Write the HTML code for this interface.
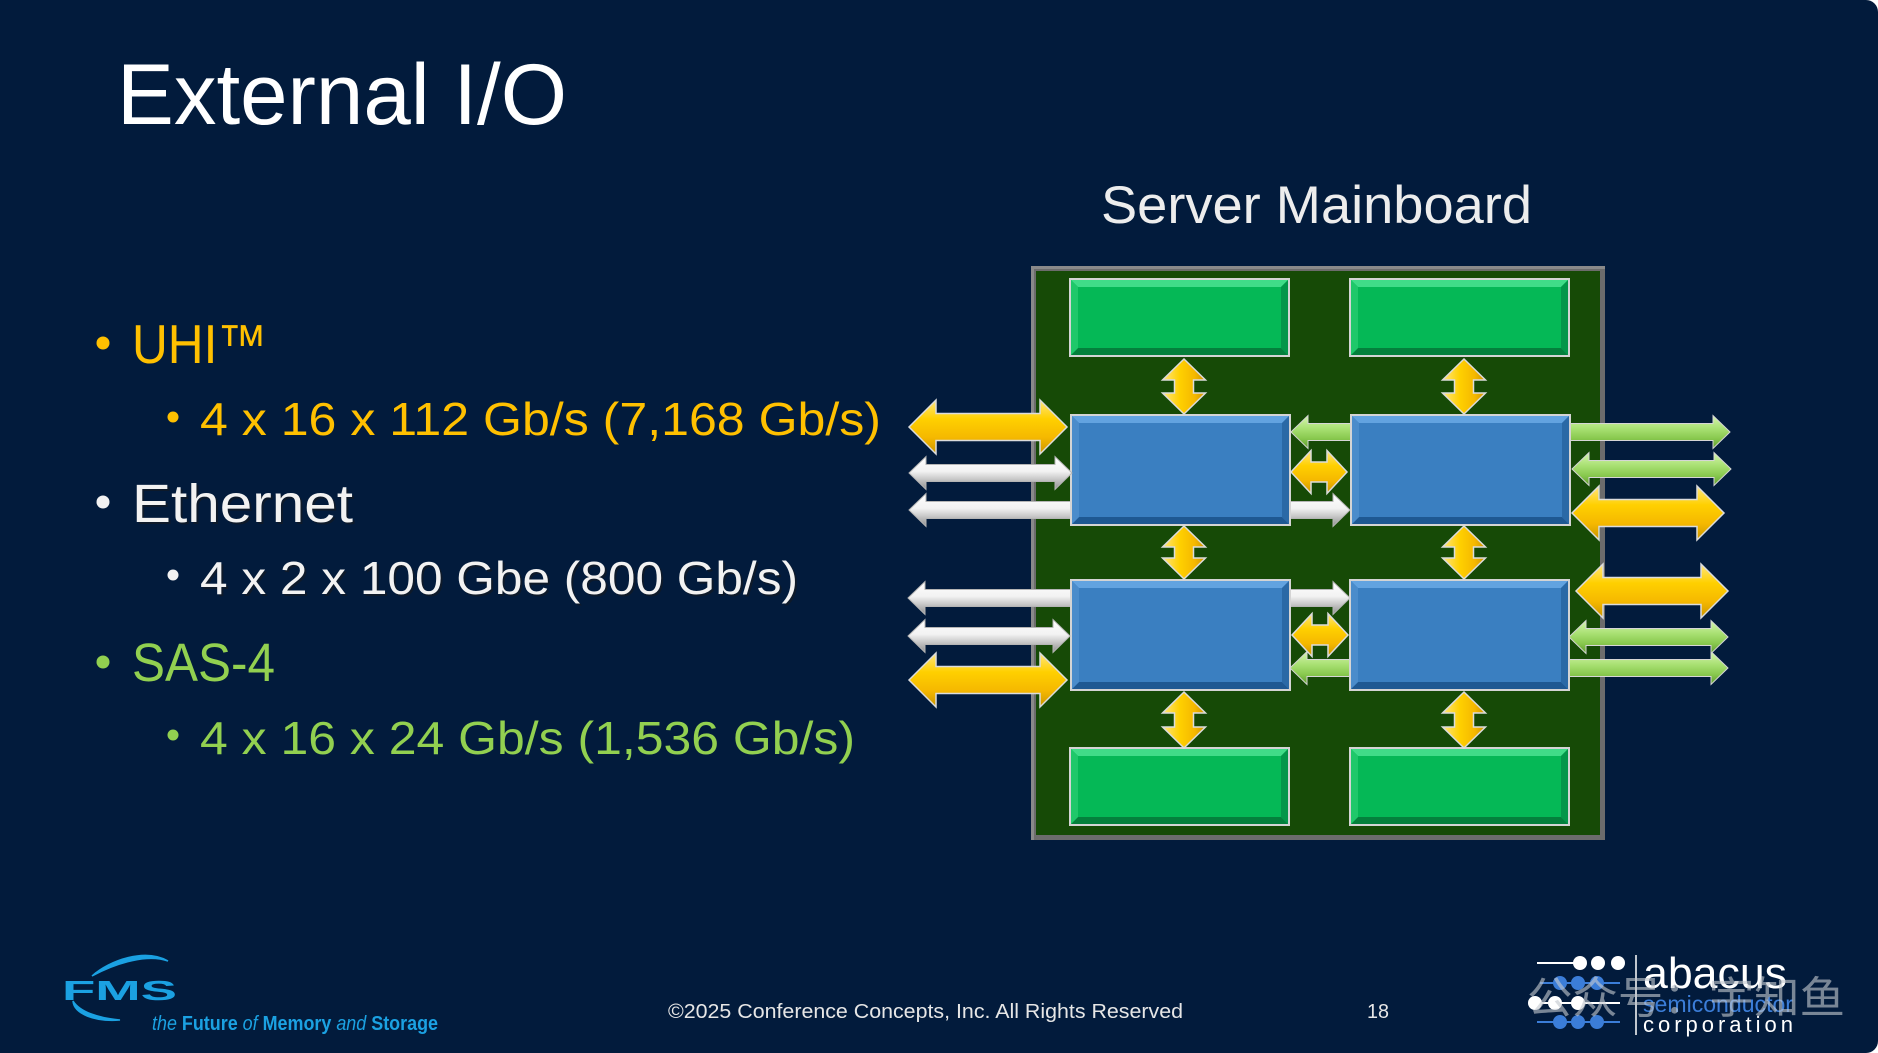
<!DOCTYPE html>
<html>
<head>
<meta charset="utf-8">
<style>
  html,body{margin:0;padding:0;background:#ffffff;}
  body{width:1878px;height:1053px;overflow:hidden;}
  .slide{position:absolute;left:0;top:0;width:1878px;height:1053px;background:#021b3c;border-radius:0 12px 12px 0;overflow:hidden;}
  svg{position:absolute;left:0;top:0;}
  text{font-family:"Liberation Sans","Noto Sans CJK SC",sans-serif;}
</style>
</head>
<body>
<div class="slide">
<svg width="1878" height="1053" viewBox="0 0 1878 1053" xmlns="http://www.w3.org/2000/svg">
  <defs>
    <linearGradient id="gy" x1="0" y1="0" x2="0" y2="1">
      <stop offset="0" stop-color="#FFE680"/>
      <stop offset="0.35" stop-color="#FFD000"/>
      <stop offset="0.7" stop-color="#F5B800"/>
      <stop offset="1" stop-color="#C99400"/>
    </linearGradient>
    <linearGradient id="gyv" x1="0" y1="0" x2="1" y2="0">
      <stop offset="0" stop-color="#FFE680"/>
      <stop offset="0.4" stop-color="#FFD000"/>
      <stop offset="0.75" stop-color="#F5B800"/>
      <stop offset="1" stop-color="#C99400"/>
    </linearGradient>
    <linearGradient id="gs" x1="0" y1="0" x2="0" y2="1">
      <stop offset="0" stop-color="#FFFFFF"/>
      <stop offset="0.45" stop-color="#F2F2F2"/>
      <stop offset="0.65" stop-color="#CFCFCF"/>
      <stop offset="1" stop-color="#8E8E8E"/>
    </linearGradient>
    <linearGradient id="gg" x1="0" y1="0" x2="0" y2="1">
      <stop offset="0" stop-color="#D6F5B0"/>
      <stop offset="0.4" stop-color="#A8E072"/>
      <stop offset="0.7" stop-color="#88C84E"/>
      <stop offset="1" stop-color="#5E9A2E"/>
    </linearGradient>

    <g id="bluebox">
      <rect x="0" y="0" width="219" height="110" fill="#3A7FC1" stroke="#d4d4d4" stroke-width="2"/>
      <polygon points="1,1 218,1 211,8 8,8" fill="#62A3E0"/>
      <polygon points="1,109 218,109 211,102 8,102" fill="#1E5892"/>
      <polygon points="1,1 8,8 8,102 1,109" fill="#4A8CCB"/>
      <polygon points="218,1 211,8 211,102 218,109" fill="#2A69A6"/>
    </g>
    <g id="greenbox">
      <rect x="0" y="0" width="219" height="77" fill="#05B856" stroke="#d4d4d4" stroke-width="2"/>
      <polygon points="1,1 218,1 211,8 8,8" fill="#40DC88"/>
      <polygon points="1,76 218,76 211,69 8,69" fill="#04803C"/>
      <polygon points="1,1 8,8 8,69 1,76" fill="#1FC86A"/>
      <polygon points="218,1 211,8 211,69 218,76" fill="#03964A"/>
    </g>
    <g id="varrows">
      <polygon points="1184,359 1205.5,380 1193.5,380 1193.5,393 1205.5,393 1184,414 1162.5,393 1174.5,393 1174.5,380 1162.5,380" fill="url(#gyv)" stroke="#dcdcdc" stroke-width="1.5"/>
      <polygon points="1184,526 1205.5,547 1193.5,547 1193.5,558 1205.5,558 1184,579 1162.5,558 1174.5,558 1174.5,547 1162.5,547" fill="url(#gyv)" stroke="#dcdcdc" stroke-width="1.5"/>
      <polygon points="1184,692 1205.5,713 1193.5,713 1193.5,727 1205.5,727 1184,748 1162.5,727 1174.5,727 1174.5,713 1162.5,713" fill="url(#gyv)" stroke="#dcdcdc" stroke-width="1.5"/>
    </g>
  </defs>

  <!-- Title -->
  <text x="117" y="124" font-size="86" fill="#FFFFFF" textLength="450" lengthAdjust="spacingAndGlyphs">External I/O</text>

  <!-- Bullets -->
  <circle cx="103" cy="343" r="6.5" fill="#FFC000"/>
  <text x="132" y="363" font-size="55" fill="#FFC000" textLength="135" lengthAdjust="spacingAndGlyphs">UHI™</text>
  <circle cx="173" cy="417" r="5.5" fill="#FFC000"/>
  <text x="200" y="435" font-size="46" fill="#FFC000" textLength="681" lengthAdjust="spacingAndGlyphs">4 x 16 x 112 Gb/s (7,168 Gb/s)</text>

  <circle cx="103" cy="502" r="6.5" fill="#F2F2F2"/>
  <text x="134" y="524" font-size="54" fill="#1a1a1a" opacity="0.5" textLength="221" lengthAdjust="spacingAndGlyphs">Ethernet</text>
  <text x="132" y="522" font-size="54" fill="#F2F2F2" textLength="221" lengthAdjust="spacingAndGlyphs">Ethernet</text>
  <circle cx="173" cy="575" r="5.5" fill="#F2F2F2"/>
  <text x="202" y="596" font-size="46" fill="#1a1a1a" opacity="0.5" textLength="598" lengthAdjust="spacingAndGlyphs">4 x 2 x 100 Gbe (800 Gb/s)</text>
  <text x="200" y="594" font-size="46" fill="#F2F2F2" textLength="598" lengthAdjust="spacingAndGlyphs">4 x 2 x 100 Gbe (800 Gb/s)</text>

  <circle cx="103" cy="662" r="6.5" fill="#92D050"/>
  <text x="132" y="681" font-size="54" fill="#92D050" textLength="143" lengthAdjust="spacingAndGlyphs">SAS-4</text>
  <circle cx="173" cy="735" r="5.5" fill="#92D050"/>
  <text x="200" y="754" font-size="46" fill="#92D050" textLength="655" lengthAdjust="spacingAndGlyphs">4 x 16 x 24 Gb/s (1,536 Gb/s)</text>

  <!-- Server Mainboard heading -->
  <text x="1101" y="223" font-size="53" fill="#EDEDED" textLength="431" lengthAdjust="spacingAndGlyphs">Server Mainboard</text>

  <!-- Board -->
  <rect x="1031" y="266" width="574" height="574" fill="#6c6c6c"/>
  <rect x="1031" y="266" width="574" height="3" fill="#8a8a8a"/>
  <rect x="1031" y="266" width="3" height="574" fill="#8a8a8a"/>
  <rect x="1036" y="271" width="564" height="564" fill="#164A06"/>

  <!-- long arrows behind boxes -->
  <polygon points="909,510 926,493.5 926,501.5 1333,501.5 1333,493.5 1350,510 1333,526.5 1333,518.5 926,518.5 926,526.5" fill="url(#gs)" stroke="#b5b5b5" stroke-width="1"/>
  <polygon points="908,598 925,581.5 925,589.5 1333,589.5 1333,581.5 1350,598 1333,614.5 1333,606.5 925,606.5 925,614.5" fill="url(#gs)" stroke="#b5b5b5" stroke-width="1"/>
  <polygon points="1291,432 1308,415.5 1308,423.5 1713,423.5 1713,415.5 1730,432 1713,448.5 1713,440.5 1308,440.5 1308,448.5" fill="url(#gg)" stroke="#d6d6d6" stroke-width="1"/>
  <polygon points="1290,668 1307,651.5 1307,659.5 1711,659.5 1711,651.5 1728,668 1711,684.5 1711,676.5 1307,676.5 1307,684.5" fill="url(#gg)" stroke="#d6d6d6" stroke-width="1"/>

  <!-- Boxes -->
  <use href="#greenbox" x="1070" y="279"/>
  <use href="#greenbox" x="1350" y="279"/>
  <use href="#bluebox" x="1071" y="415"/>
  <use href="#bluebox" x="1351" y="415"/>
  <use href="#bluebox" x="1071" y="580"/>
  <use href="#bluebox" x="1350" y="580"/>
  <use href="#greenbox" x="1070" y="748"/>
  <use href="#greenbox" x="1350" y="748"/>

  <!-- Left side arrows -->
  <polygon points="909,427 936,400 936,413.5 1040,413.5 1040,400 1067,427 1040,454 1040,440.5 936,440.5 936,454" fill="url(#gy)" stroke="#dcdcdc" stroke-width="1.5"/>
  <polygon points="909,473 926,456.5 926,464.5 1055,464.5 1055,456.5 1072,473 1055,489.5 1055,481.5 926,481.5 926,489.5" fill="url(#gs)" stroke="#b5b5b5" stroke-width="1"/>
  <polygon points="908,636 925,619.5 925,627.5 1053,627.5 1053,619.5 1070,636 1053,652.5 1053,644.5 925,644.5 925,652.5" fill="url(#gs)" stroke="#b5b5b5" stroke-width="1"/>
  <polygon points="909,680 936,653 936,666.5 1040,666.5 1040,653 1067,680 1040,707 1040,693.5 936,693.5 936,707" fill="url(#gy)" stroke="#dcdcdc" stroke-width="1.5"/>

  <!-- Middle small arrows -->
  <polygon points="1291,472 1311,450.5 1311,462 1327,462 1327,450.5 1347,472 1327,493.5 1327,482 1311,482 1311,493.5" fill="url(#gy)" stroke="#dcdcdc" stroke-width="1.5"/>
  <polygon points="1292,635 1312,613.5 1312,625 1328,625 1328,613.5 1348,635 1328,656.5 1328,645 1312,645 1312,656.5" fill="url(#gy)" stroke="#dcdcdc" stroke-width="1.5"/>

  <!-- Right side arrows -->
  <polygon points="1572,469 1589,452.5 1589,460.5 1714,460.5 1714,452.5 1731,469 1714,485.5 1714,477.5 1589,477.5 1589,485.5" fill="url(#gg)" stroke="#d6d6d6" stroke-width="1"/>
  <polygon points="1572,513 1599,486 1599,499.5 1697,499.5 1697,486 1724,513 1697,540 1697,526.5 1599,526.5 1599,540" fill="url(#gy)" stroke="#dcdcdc" stroke-width="1.5"/>
  <polygon points="1576,591 1603,564 1603,577.5 1701,577.5 1701,564 1728,591 1701,618 1701,604.5 1603,604.5 1603,618" fill="url(#gy)" stroke="#dcdcdc" stroke-width="1.5"/>
  <polygon points="1569,637 1586,620.5 1586,628.5 1711,628.5 1711,620.5 1728,637 1711,653.5 1711,645.5 1586,645.5 1586,653.5" fill="url(#gg)" stroke="#d6d6d6" stroke-width="1"/>

  <!-- Vertical arrows -->
  <use href="#varrows"/>
  <use href="#varrows" x="280"/>

  <!-- FMS logo -->
  <path d="M92 976 C110 960, 145 948, 168 961 C148 954, 118 962, 92 976 Z" fill="#1BA1E2" stroke="#1BA1E2" stroke-width="1.5"/>
  <path d="M73 1001 C74 1014, 95 1022, 120 1020 C98 1018, 80 1012, 73 1001 Z" fill="#1BA1E2" stroke="#1BA1E2" stroke-width="1.5"/>
  <text x="62" y="1000" font-size="28" fill="#1BA1E2" textLength="115" lengthAdjust="spacingAndGlyphs" font-weight="bold">FMS</text>
  <text x="152" y="1030" font-size="20" fill="#1BA1E2" textLength="286" lengthAdjust="spacingAndGlyphs"><tspan font-style="italic">the </tspan><tspan font-weight="bold">Future</tspan><tspan font-style="italic"> of </tspan><tspan font-weight="bold">Memory</tspan><tspan font-style="italic"> and </tspan><tspan font-weight="bold">Storage</tspan></text>

  <!-- Footer -->
  <text x="668" y="1018" font-size="20" fill="#E6E6E6" textLength="515" lengthAdjust="spacingAndGlyphs">©2025 Conference Concepts, Inc. All Rights Reserved</text>
  <text x="1367" y="1018" font-size="20" fill="#E6E6E6" textLength="22" lengthAdjust="spacingAndGlyphs">18</text>

  <!-- abacus logo -->
  <g>
    <line x1="1537" y1="963" x2="1580" y2="963" stroke="#ffffff" stroke-width="2"/>
    <circle cx="1580" cy="963" r="7" fill="#ffffff"/>
    <circle cx="1598" cy="963" r="7" fill="#ffffff"/>
    <circle cx="1618" cy="963" r="7" fill="#ffffff"/>
    <line x1="1540" y1="983" x2="1620" y2="983" stroke="#3B7DD8" stroke-width="2"/>
    <circle cx="1560" cy="983" r="7" fill="#3B7DD8"/>
    <circle cx="1578" cy="983" r="7" fill="#3B7DD8"/>
    <circle cx="1597" cy="983" r="7" fill="#3B7DD8"/>
    <line x1="1535" y1="1003" x2="1620" y2="1003" stroke="#ffffff" stroke-width="2"/>
    <circle cx="1535" cy="1003" r="7" fill="#ffffff"/>
    <circle cx="1555" cy="1003" r="7" fill="#ffffff"/>
    <circle cx="1578" cy="1003" r="7" fill="#ffffff"/>
    <line x1="1537" y1="1022" x2="1620" y2="1022" stroke="#3B7DD8" stroke-width="2"/>
    <circle cx="1560" cy="1022" r="7" fill="#3B7DD8"/>
    <circle cx="1578" cy="1022" r="7" fill="#3B7DD8"/>
    <circle cx="1597" cy="1022" r="7" fill="#3B7DD8"/>
    <line x1="1636" y1="955" x2="1636" y2="1035" stroke="#ffffff" stroke-width="1.5"/>
    <text x="1643" y="988" font-size="44" fill="#ffffff" textLength="144" lengthAdjust="spacingAndGlyphs">abacus</text>
    <text x="1643" y="1012" font-size="23" fill="#3B7DD8" textLength="150" lengthAdjust="spacingAndGlyphs">semiconductor</text>
    <text x="1643" y="1032" font-size="22" fill="#ffffff" textLength="150" lengthAdjust="spacing">corporation</text>
  </g>

  <!-- watermark -->
  <text x="1527" y="1013" font-size="44" fill="#c4c8ce" fill-opacity="0.62" textLength="318" lengthAdjust="spacingAndGlyphs" style="font-family:'Noto Sans CJK SC',sans-serif;">公众号：宇知鱼</text>
</svg>
</div>
</body>
</html>
